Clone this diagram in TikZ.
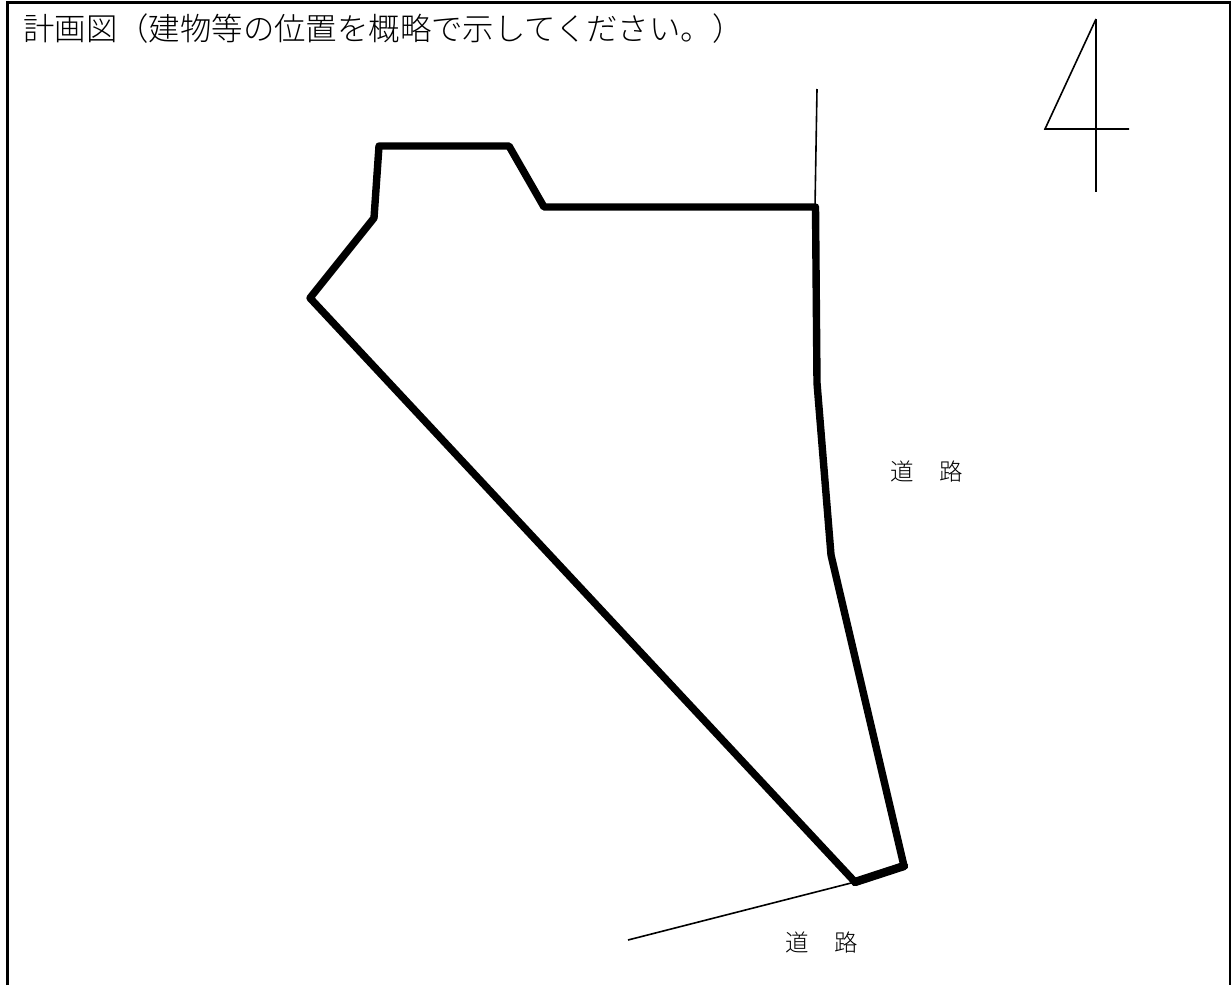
\documentclass[tikz,border=0pt]{standalone}
\usepackage{fontspec}
\newfontfamily\jpf{Noto Sans CJK JP Light}
\begin{document}
\begin{tikzpicture}[x=1pt,y=-1pt,
  frameline/.style={line width=3pt,line cap=butt},
  lot/.style={line width=7.4pt,line join=round,line cap=round},
  thin line/.style={line width=1.6pt,line join=miter},
  lbl/.style={inner sep=0pt,font=\jpf\fontsize{23.5}{24}\selectfont,text=black}]
\useasboundingbox (0,0) rectangle (1231,985);
\draw[frameline] (7,985) -- (7,2) -- (1230,2) -- (1230,985);
\node[anchor=west,inner sep=0pt,font=\jpf\fontsize{31.4}{32}\selectfont,text=black] (title) at (23,28.5) {計画図（建物等の位置を概略で示してください。）};
\draw[lot] (379,146) -- (509,146) -- (544,207) -- (815.5,207) -- (817,383) -- (831,555) -- (904,866) -- (855,882) -- (310,298) -- (374,218) -- cycle;
\draw[line width=8.4pt,line cap=round] (904,866) -- (855,882);
\coordinate (n1) at (817,89);
\coordinate (n2) at (815,207);
\draw[thin line] (n1) -- (n2);
\coordinate (r1) at (628,940);
\coordinate (r2) at (855,882);
\draw[thin line] (r1) -- (r2);
\draw[thin line] (1096,19) -- (1045,129) -- (1129,129);
\draw[thin line] (1096,19) -- (1096,192);
\node[lbl] (road1) at (926.5,472) {道\hspace{1.08em}路};
\node[lbl] (road2) at (822,943) {道\hspace{1.08em}路};
\end{tikzpicture}
\end{document}
